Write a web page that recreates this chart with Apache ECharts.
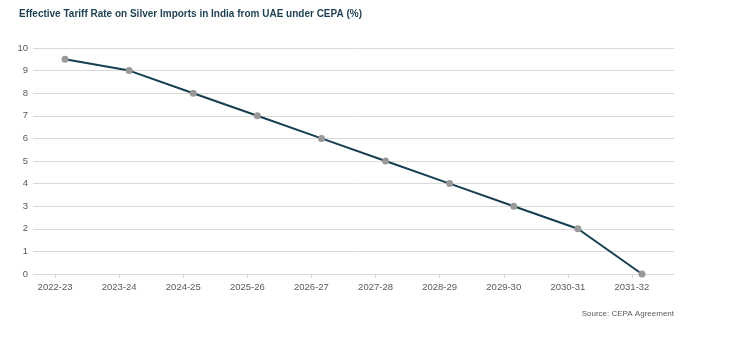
<!DOCTYPE html>
<html>
<head>
<meta charset="utf-8">
<script src="https://cdn.jsdelivr.net/npm/echarts@6/dist/echarts.min.js"></script>
<style>
  html, body { margin: 0; padding: 0; background: #ffffff; }
  #chart { width: 744px; height: 337px; }
</style>
</head>
<body>
<div id="chart"></div>
<script>
// Fiscal years of the CEPA phase-down schedule
const years = ['2022-23', '2023-24', '2024-25', '2025-26', '2026-27',
               '2027-28', '2028-29', '2029-30', '2030-31', '2031-32'];
// Effective tariff rate (%) on silver imports from UAE
const tariffRates = [9.5, 9, 8, 7, 6, 5, 4, 3, 2, 0];
// Y-axis ticks
const yTicks = [0, 1, 2, 3, 4, 5, 6, 7, 8, 9, 10];

const sans = '"Liberation Sans", Arial, sans-serif';
const chart = echarts.init(document.getElementById('chart'), null, { renderer: 'canvas' });

chart.setOption({
  animation: false,
  backgroundColor: '#ffffff',
  title: [{
    text: 'Effective Tariff Rate on Silver Imports in India from UAE under CEPA (%)',
    left: 14, top: 4,
    textStyle: { fontFamily: sans, fontSize: 10, fontWeight: 'bold', color: '#1d3f52' }
  }, {
    text: 'Source: CEPA Agreement',
    right: 65, top: 305,
    textStyle: { fontFamily: sans, fontSize: 8, fontWeight: 'normal', color: '#595959' }
  }],
  grid: [
    { left: 33, width: 641, top: 48, height: 226 },
    { left: 23, width: 641, top: 48, height: 226 }
  ],
  xAxis: [{
    type: 'category', data: years, gridIndex: 0, boundaryGap: true,
    axisLine: { show: false }, axisTick: { show: false }, axisLabel: { show: false }
  }, {
    type: 'category', data: years, gridIndex: 1, boundaryGap: true,
    axisLine: { show: false },
    axisTick: { show: true, alignWithLabel: true, length: 4, lineStyle: { color: '#d9d9d9' } },
    axisLabel: { margin: 8, fontFamily: sans, fontSize: 9.5, color: '#595959' }
  }],
  yAxis: [{
    type: 'value', gridIndex: 0, min: yTicks[0], max: yTicks[yTicks.length - 1], interval: 1,
    axisLine: { show: false }, axisTick: { show: false },
    axisLabel: { margin: 5, fontFamily: sans, fontSize: 9.5, color: '#595959' },
    splitLine: { lineStyle: { color: '#d9d9d9', width: 1 } }
  }, {
    type: 'value', gridIndex: 1, min: 0, max: 10, show: false
  }],
  series: [{
    type: 'line', xAxisIndex: 0, yAxisIndex: 0,
    data: tariffRates,
    symbol: 'circle', symbolSize: 7,
    itemStyle: { color: '#999999' },
    lineStyle: { color: '#173f50', width: 2 }
  }]
});
</script>
</body>
</html>
